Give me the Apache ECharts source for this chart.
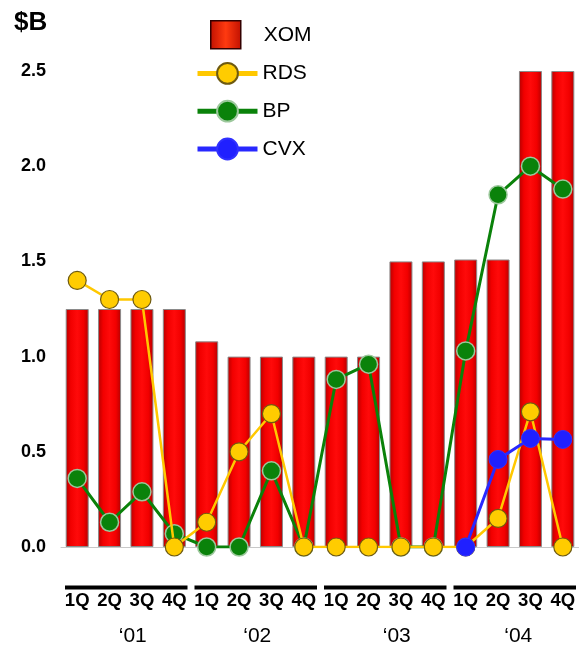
<!DOCTYPE html>
<html>
<head>
<meta charset="utf-8">
<script src="https://cdn.jsdelivr.net/npm/echarts@6/dist/echarts.min.js"></script>
<style>
html,body{margin:0;padding:0;background:#fff;}
#chart{width:579px;height:652px;}
</style>
</head>
<body>
<div id="chart"></div>
<script>
// ---- data ----
const quarters = ['1Q','2Q','3Q','4Q'];
const yearLabels = ['\u201801','\u201802','\u201803','\u201804'];
const categories = ['1Q 01','2Q 01','3Q 01','4Q 01','1Q 02','2Q 02','3Q 02','4Q 02','1Q 03','2Q 03','3Q 03','4Q 03','1Q 04','2Q 04','3Q 04','4Q 04'];
const xomValues = [1.25,1.25,1.25,1.25, 1.08,1.0,1.0,1.0, 1.0,1.0,1.5,1.5, 1.51,1.51,2.5,2.5];
const rdsValues = [1.40,1.30,1.30,0, 0.13,0.50,0.70,0, 0,0,0,0, 0,0.15,0.71,0];
const bpValues  = [0.36,0.13,0.29,0.07, 0,0,0.40,0, 0.88,0.96,0,0, 1.03,1.85,2.0,1.88];
const cvxValues = [null,null,null,null, null,null,null,null, null,null,null,null, 0,0.46,0.57,0.565];
const yTicks = {min:0, max:2.5, interval:0.5};
const yearGroups = [0,1,2,3];

// ---- styling ----
const FONT = 'Arial, "Liberation Sans", sans-serif';
const yearLabelShift = [7,2,12,4];
const barGradient = new echarts.graphic.LinearGradient(0,0,1,0,[
  {offset:0,color:'#b40000'},{offset:0.22,color:'#f20000'},{offset:0.5,color:'#ff0a0a'},
  {offset:0.78,color:'#f20000'},{offset:1,color:'#b40000'}]);
const legendGradient = new echarts.graphic.LinearGradient(0,0,1,0,[
  {offset:0,color:'#c01000'},{offset:0.5,color:'#ff3a10'},{offset:1,color:'#c01000'}]);

const chart = echarts.init(document.getElementById('chart'), null, {renderer:'canvas'});
chart.setOption({
  animation:false,
  backgroundColor:'#fff',
  title:{text:'$B', left:9, top:5, textStyle:{fontFamily:FONT, fontSize:26, fontWeight:'bold', color:'#000'}},
  legend:[{
    data:[{name:'XOM', icon:'rect', itemStyle:{color:legendGradient, borderColor:'#300', borderWidth:1.5}}],
    left:205, top:15, orient:'vertical',
    itemWidth:30, itemHeight:28,
    textStyle:{fontFamily:FONT, fontSize:21, color:'#000', padding:[0,0,0,18]}
  },{
    data:['RDS','BP','CVX'],
    left:190, top:57, orient:'vertical',
    itemWidth:60, itemHeight:26, itemGap:15,
    lineStyle:{width:5},
    textStyle:{fontFamily:FONT, fontSize:21, color:'#000', padding:[0,0,0,0]}
  }],
  grid:{left:61, width:520, top:71, bottom:105, containLabel:false},
  xAxis:{
    type:'category', data:categories,
    axisTick:{show:false},
    axisLine:{show:true, lineStyle:{color:'#c8c8c8', width:1}},
    axisLabel:{
      interval:0, margin:44, color:'#000', fontFamily:FONT, fontSize:18.5, fontWeight:'bold',
      formatter:(v)=>v.split(' ')[0]
    }
  },
  yAxis:{
    type:'value', min:yTicks.min, max:yTicks.max, interval:yTicks.interval,
    splitLine:{show:false}, axisLine:{show:false}, axisTick:{show:false},
    axisLabel:{margin:15, color:'#000', fontFamily:FONT, fontSize:18, fontWeight:'bold',
      formatter:(v)=>v.toFixed(1)}
  },
  series:[
    {name:'XOM', type:'bar', data:xomValues, barWidth:23, z:1,
     itemStyle:{color:barGradient, borderColor:'#8a8a8a', borderWidth:1}},
    {name:'BP', type:'line', data:bpValues, z:3, symbol:'circle', symbolSize:18,
     lineStyle:{color:'#0a820a', width:3},
     itemStyle:{color:'#0a820a', borderColor:'#9cc89c', borderWidth:1.5}},
    {name:'RDS', type:'line', data:rdsValues, z:4, symbol:'circle', symbolSize:18,
     lineStyle:{color:'#ffc800', width:2.5},
     itemStyle:{color:'#ffcc00', borderColor:'#6e5a10', borderWidth:1.2}},
    {name:'CVX', type:'line', data:cvxValues, z:5, symbol:'circle', symbolSize:18,
     connectNulls:false,
     lineStyle:{color:'#2828ff', width:3},
     itemStyle:{color:'#2020ff', borderColor:'#3030ff', borderWidth:1}},
    {name:'years', type:'custom', z:2, clip:false, silent:true,
     data:yearGroups.map(g=>[g*4, 0, g]),
     renderItem:(params, api)=>{
       const g = api.value(2);
       const p = api.coord([api.value(0), 0]);
       const w = api.size([1,0])[0];
       const x0 = p[0] - w/2, x1 = x0 + 4*w;
       const y = p[1] + 40.5;
       return {type:'group', children:[
         {type:'line', shape:{x1:x0+4, y1:y, x2:x1-3, y2:y}, style:{stroke:'#000', lineWidth:4}},
         {type:'text', style:{text:yearLabels[g], x:(x0+x1)/2 + yearLabelShift[g], y:y+48.5,
           align:'center', verticalAlign:'middle', font:'21px ' + FONT, fill:'#000'}}
       ]};
     }}
  ]
});
</script>
</body>
</html>
